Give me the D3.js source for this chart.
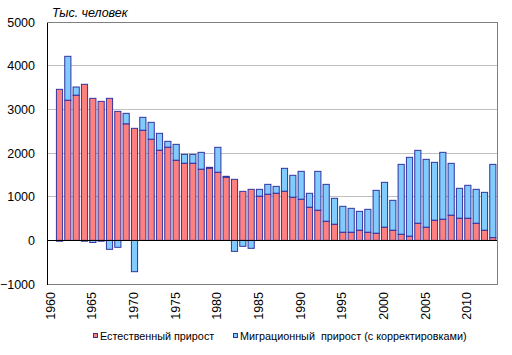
<!DOCTYPE html>
<html><head><meta charset="utf-8">
<script src="https://cdn.jsdelivr.net/npm/d3@7"></script>
<style>body{margin:0;background:#fff;} svg{display:block;font-family:"Liberation Sans",Arial,sans-serif;}</style>
</head><body>
<svg id="c" width="512" height="355"></svg>
<script>
const years = d3.range(1960, 2014);
const dataYears = d3.range(1961, 2014);
const natural = [3458,3206,3321,3573,3252,3183,3252,2954,2664,2565,2519,2313,2061,2130,1832,1763,1763,1626,1649,1557,1443,1397,1122,1168,1008,1053,1076,1122,985,939,756,687,435,366,183,183,229,183,160,298,229,137,92,389,298,458,481,573,504,504,389,229,61];
const migration = [-20,1008,190,-20,-50,-20,-206,-160,244,-718,298,389,389,137,366,206,206,389,23,573,23,-252,-137,-183,160,229,160,527,504,641,321,893,847,596,596,550,435,527,985,1030,687,1603,1809,1672,1557,1328,1534,1190,687,756,779,870,1679];
const yTicks = [-1000,0,1000,2000,3000,4000,5000];
const xLabels = [1960,1965,1970,1975,1980,1985,1990,1995,2000,2005,2010];
const seriesNames = ["Естественный прирост", "Миграционный  прирост (с корректировками)"];
const colors = {nat:"#FF8080", mig:"#80CCFF", stroke:"#3333A0"};

const svg = d3.select("#c");
const L = 47, R = 497, T = 22, B = 284;
const x = d3.scaleBand().domain(years).range([L, R]).paddingInner(0.26).paddingOuter(0.13);
const y = d3.scaleLinear().domain([-1000, 5000]).range([B, T]);

// gridlines
svg.append("g").selectAll("line").data(yTicks.filter(v => v > 0 && v < 5000)).join("line")
  .attr("x1", L).attr("x2", R).attr("y1", d => y(d)).attr("y2", d => y(d))
  .attr("stroke", "#C0C0C0").attr("stroke-width", 1).attr("shape-rendering", "crispEdges");
// border top/right/bottom
svg.append("path").attr("d", `M${L},${y(5000)}H${R}V${y(-1000)}H${L}`)
  .attr("fill", "none").attr("stroke", "#808080").attr("stroke-width", 1).attr("shape-rendering", "crispEdges");

const rows = dataYears.map((yr, i) => ({yr, n: natural[i], m: migration[i]}));
const bars = svg.append("g");
// migration bars
bars.selectAll("rect.m").data(rows).join("rect").attr("class", "m")
  .attr("x", d => x(d.yr)).attr("width", x.bandwidth())
  .attr("y", d => d.m >= 0 ? y(d.n + d.m) : y(0))
  .attr("height", d => d.m >= 0 ? y(d.n) - y(d.n + d.m) : y(d.m) - y(0))
  .attr("fill", colors.mig).attr("stroke", colors.stroke).attr("stroke-width", 1);
// natural bars
bars.selectAll("rect.n").data(rows).join("rect").attr("class", "n")
  .attr("x", d => x(d.yr)).attr("width", x.bandwidth())
  .attr("y", d => y(d.n)).attr("height", d => y(0) - y(d.n))
  .attr("fill", colors.nat).attr("stroke", colors.stroke).attr("stroke-width", 1);

// zero line and left axis
svg.append("line").attr("x1", L).attr("x2", R).attr("y1", y(0)).attr("y2", y(0))
  .attr("stroke", "#000").attr("stroke-width", 1).attr("shape-rendering", "crispEdges");
const yAxis = d3.axisLeft(y).tickValues(yTicks).tickSize(0).tickPadding(12).tickFormat(d3.format("d"));
const ga = svg.append("g").attr("transform", `translate(${L},0)`).call(yAxis);
ga.select(".domain").attr("stroke", "#000").attr("shape-rendering", "crispEdges");
ga.selectAll("text").attr("font-size", "12.5px").attr("fill", "#000").attr("font-family", "Liberation Sans, Arial, sans-serif");

// x labels
const xAxis = d3.axisBottom(x).tickValues(xLabels).tickSize(0).tickPadding(0);
const gx = svg.append("g").attr("transform", `translate(0,${B})`).call(xAxis);
gx.select(".domain").remove();
gx.selectAll("text").attr("font-size", "12.5px").attr("fill", "#000")
  .attr("font-family", "Liberation Sans, Arial, sans-serif")
  .attr("text-anchor", "end").attr("dy", "0.35em")
  .attr("transform", "translate(-1,8) rotate(-90)").attr("x", 0).attr("y", 0);

// title
svg.append("text").attr("x", 52).attr("y", 17).attr("font-size", "12.5px").attr("font-style", "italic")
  .text("Тыс. человек");

// legend
const leg = svg.append("g");
const legItems = [{name: seriesNames[0], c: colors.nat, x: 93}, {name: seriesNames[1], c: colors.mig, x: 233}];
legItems.forEach(it => {
  leg.append("rect").attr("x", it.x + 0.5).attr("y", 333.5).attr("width", 4).attr("height", 4)
    .attr("fill", it.c).attr("stroke", colors.stroke).attr("stroke-width", 1);
  leg.append("text").attr("x", it.x + 7).attr("y", 340).attr("font-size", "10.8px").text(it.name)
    .style("white-space", "pre").attr("xml:space", "preserve");
});
</script>
</body></html>
